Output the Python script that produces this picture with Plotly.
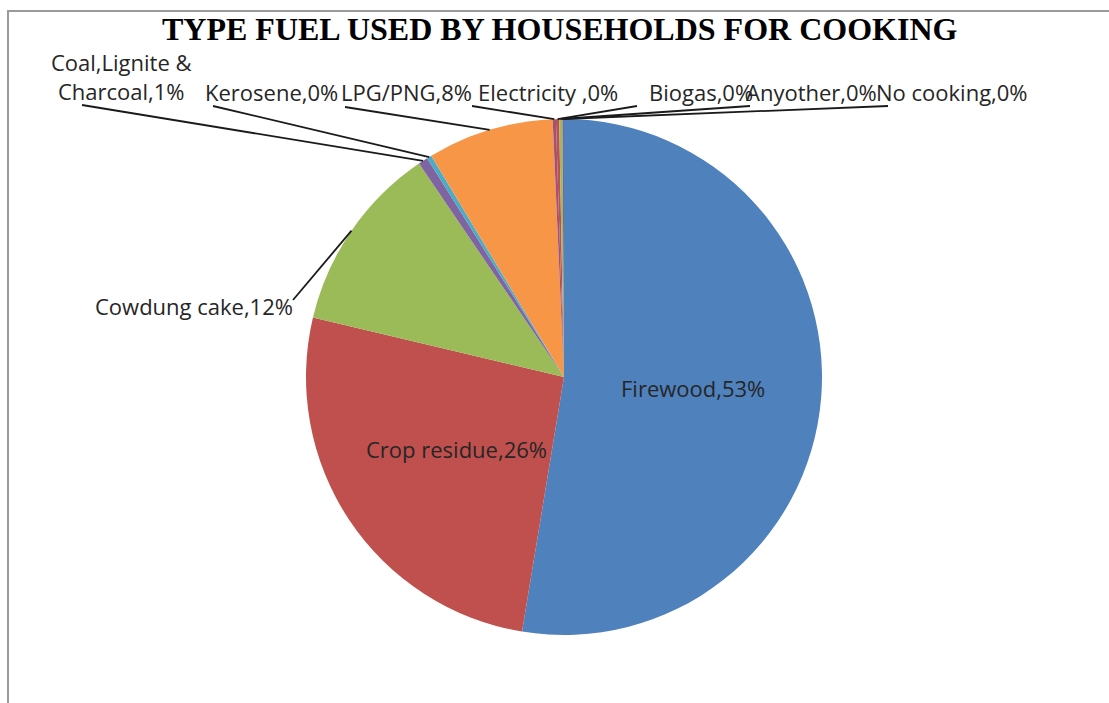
import math
import plotly.graph_objects as go

# Share of households by main cooking fuel (%)
fuels = ["Firewood", "Crop residue", "Cowdung cake", "Coal,Lignite & Charcoal",
         "Kerosene", "LPG/PNG", "Electricity ", "Biogas", "Anyother", "No cooking"]
shares = [52.6, 26.1, 11.8, 0.6, 0.3, 7.9, 0.2, 0.2, 0.2, 0.1]
colors = ["#4F81BD", "#C0504D", "#9BBB59", "#8064A2", "#4BACC6",
          "#F79646", "#A0527A", "#C0504D", "#9BBB59", "#8064A2"]

TITLE = "TYPE FUEL USED BY HOUSEHOLDS FOR COOKING"

W, H = 1109, 703
CX, CY, R = 564, 377, 258  # pie centre and radius in pixels

# Outside label placement: (text centre x, y) and leader-line start (x, y)
outside = {
    "Cowdung cake": ((194, 306), (293, 300)),
    "Coal,Lignite & Charcoal": ((121, 76), (82, 105)),
    "Kerosene": ((271, 92), (213, 106)),
    "LPG/PNG": ((406, 92), (345, 107)),
    "Electricity ": ((548, 92), (472, 106)),
    "Biogas": ((701, 92), (637, 106)),
    "Anyother": ((811, 92), (750, 106)),
    "No cooking": ((952, 92), (888, 106)),
}
inside = ["Firewood", "Crop residue"]

LABEL_FONT = dict(family="Open Sans", size=22, color="#262626")

fig = go.Figure()
fig.add_trace(go.Pie(
    labels=fuels, values=shares, sort=False, direction="clockwise", rotation=0,
    marker=dict(colors=colors, line=dict(width=0)), textinfo="none",
    showlegend=False, hoverinfo="label+percent",
    domain=dict(x=[(CX - R) / W, (CX + R) / W], y=[1 - (CY + R) / H, 1 - (CY - R) / H]),
))

total = sum(shares)
annotations, shapes = [], []
cum = 0.0
for name, v in zip(fuels, shares):
    mid = (cum + v / 2) / total * 2 * math.pi
    cum += v
    pct = round(v / total * 100)
    text = f"{name},{pct}%".replace("& ", "&amp;<br>")
    if name in inside:
        x = CX + 0.5 * R * math.sin(mid)
        y = CY - 0.5 * R * math.cos(mid)
        annotations.append(dict(x=x, y=y, text=text, showarrow=False,
                                xref="x", yref="y", font=LABEL_FONT))
    else:
        (tx, ty), (lx, ly) = outside[name]
        ex = CX + R * math.sin(mid)
        ey = CY - R * math.cos(mid)
        shapes.append(dict(type="line", xref="x", yref="y", x0=lx, y0=ly, x1=ex, y1=ey,
                           line=dict(color="#1a1a1a", width=1.8), layer="above"))
        annotations.append(dict(x=tx, y=ty, text=text, showarrow=False, align="center",
                                xref="x", yref="y", font=LABEL_FONT))

annotations.append(dict(x=560, y=29, text=f"<b>{TITLE}</b>", showarrow=False,
                        xref="x", yref="y",
                        font=dict(family="Liberation Serif", size=32, color="#000000")))

# chart area frame (top and left edges)
shapes.append(dict(type="path", xref="x", yref="y", path=f"M {W} 11 L 8 11 L 8 {H}",
                   line=dict(color="#9a9a9a", width=2)))

fig.update_layout(
    width=W, height=H, margin=dict(l=0, r=0, t=0, b=0),
    paper_bgcolor="white", plot_bgcolor="rgba(0,0,0,0)",
    xaxis=dict(range=[0, W], visible=False, fixedrange=True),
    yaxis=dict(range=[H, 0], visible=False, fixedrange=True),
    annotations=annotations, shapes=shapes,
)

fig.write_html("out.html")
